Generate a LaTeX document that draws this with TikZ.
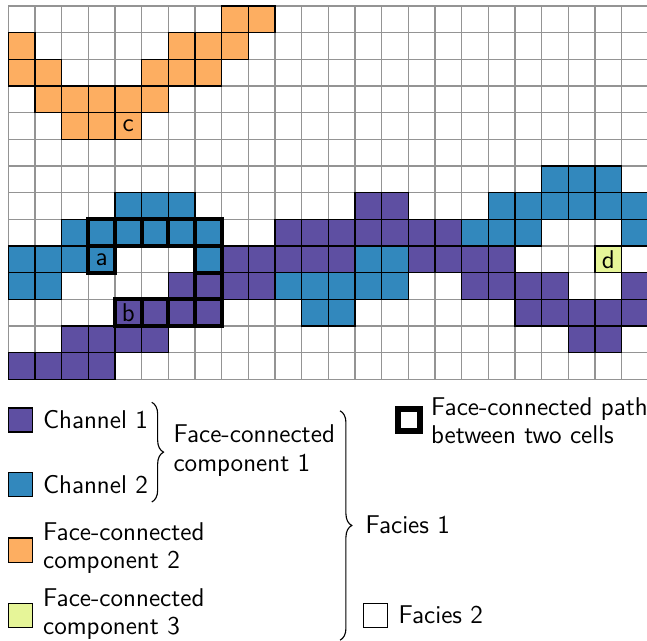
\documentclass[tikz,border=0pt]{standalone}
\usetikzlibrary{decorations.pathreplacing}
\definecolor{chone}{HTML}{5E4FA2}
\definecolor{chtwo}{HTML}{3288BD}
\definecolor{compB}{HTML}{FDAE61}
\definecolor{compC}{HTML}{E6F598}
\newcommand{\legfont}{\sffamily\fontsize{13.7pt}{15.2pt}\selectfont}
\begin{document}
\begin{tikzpicture}[
  gridline/.style={draw=black!42, line width=0.55pt},
  cellbox/.style={draw=black, line width=0.55pt},
  pathcell/.style={draw=black, line width=2.3pt},
  lab/.style={font=\legfont, inner sep=0pt},
  txt/.style={font=\legfont, inner sep=0pt, anchor=west, align=left},
  keybox/.style={draw=black, line width=0.55pt, minimum size=0.45cm, inner sep=0pt},
  bracestyle/.style={decorate, decoration={brace, amplitude=0.22cm}, line width=0.6pt}
]
\useasboundingbox (-0.156,0.1125) rectangle (11.975,-11.906);
% grid
\draw[gridline] (0,0) grid[step=0.5] (12,-7);
% channel 1 (purple)
\foreach \c/\r in {13/7,14/7,
  10/8,11/8,12/8,13/8,14/8,15/8,16/8,
  8/9,9/9,10/9,11/9,12/9,15/9,16/9,17/9,18/9,
  6/10,7/10,8/10,9/10,17/10,18/10,19/10,20/10,23/10,
  4/11,5/11,6/11,7/11,19/11,20/11,21/11,22/11,23/11,
  2/12,3/12,4/12,5/12,21/12,22/12,
  0/13,1/13,2/13,3/13}
  \filldraw[cellbox, fill=chone] (0.5*\c,-0.5*\r) rectangle ++(0.5,-0.5);
% channel 2 (blue)
\foreach \c/\r in {20/6,21/6,22/6,
  4/7,5/7,6/7,18/7,19/7,20/7,21/7,22/7,23/7,
  2/8,3/8,4/8,5/8,6/8,7/8,17/8,18/8,19/8,23/8,
  0/9,1/9,2/9,3/9,7/9,13/9,14/9,
  0/10,1/10,10/10,11/10,12/10,13/10,14/10,
  11/11,12/11}
  \filldraw[cellbox, fill=chtwo] (0.5*\c,-0.5*\r) rectangle ++(0.5,-0.5);
% component 2 (orange)
\foreach \c/\r in {8/0,9/0,
  0/1,6/1,7/1,8/1,
  0/2,1/2,5/2,6/2,7/2,
  1/3,2/3,3/3,4/3,5/3,
  2/4,3/4,4/4}
  \filldraw[cellbox, fill=compB] (0.5*\c,-0.5*\r) rectangle ++(0.5,-0.5);
% component 3 (yellow)
\filldraw[cellbox, fill=compC] (11,-4.5) rectangle ++(0.5,-0.5);
% face-connected path
\foreach \c/\r in {3/8,4/8,5/8,6/8,7/8,3/9,7/9,7/10,4/11,5/11,6/11,7/11}
  \draw[pathcell] (0.5*\c,-0.5*\r) rectangle ++(0.5,-0.5);
% cell labels
\node[lab] (la) at (1.75,-4.75) {a};
\node[lab] (lb) at (2.25,-5.75) {b};
\node[lab] (lc) at (2.25,-2.25) {c};
\node[lab] (ld) at (11.25,-4.75) {d};
% legend
\node[keybox, fill=chone] (k1) at (0.225,-7.7625) {};
\node[txt] (t1) at (0.645,-7.7625) {Channel 1};
\node[keybox, fill=chtwo] (k2) at (0.225,-8.98) {};
\node[txt] (t2) at (0.645,-8.98) {Channel 2};
\coordinate (b1t) at (2.69,-7.43);
\coordinate (b1b) at (2.69,-9.3);
\draw[bracestyle] (b1t) -- (b1b);
\node[txt] (tfc1) at (3.09,-8.34) {Face-connected\\component 1};
\node[keybox, fill=compB] (k3) at (0.225,-10.2) {};
\node[txt] (t3) at (0.645,-10.16) {Face-connected\\component 2};
\node[keybox, fill=compC] (k4) at (0.225,-11.42) {};
\node[txt] (t4) at (0.645,-11.4) {Face-connected\\component 3};
\coordinate (b2t) at (6.22,-7.59);
\coordinate (b2b) at (6.22,-11.89);
\draw[bracestyle] (b2t) -- (b2b);
\node[txt] (tf1) at (6.69,-9.73) {Facies 1};
\node[keybox, line width=3pt, minimum size=0.41cm] (kp) at (7.51,-7.76) {};
\node[txt] (tp) at (7.92,-7.78) {Face-connected path\\between two cells};
\node[keybox] (k5) at (6.876,-11.42) {};
\node[txt] (t5) at (7.31,-11.42) {Facies 2};
\end{tikzpicture}
\end{document}
